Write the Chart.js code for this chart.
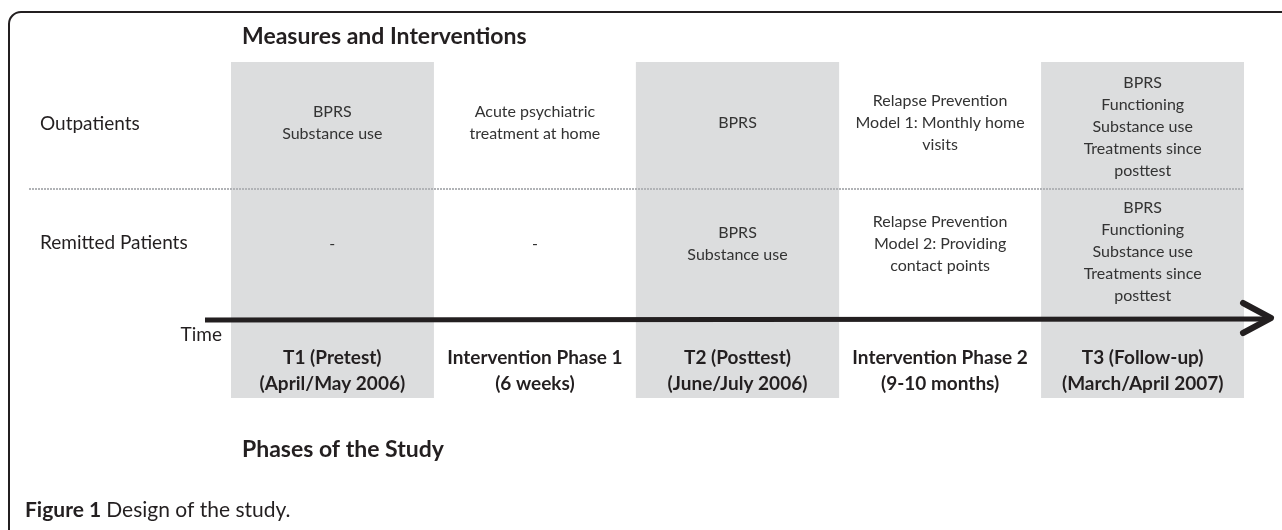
<!DOCTYPE html>
<html>
<head>
<meta charset="utf-8">
<script src="https://cdn.jsdelivr.net/npm/chart.js@4"></script>
<style>
  html, body { margin: 0; padding: 0; background: #fff; }
  #chart { display: block; }
</style>
</head>
<body>
<canvas id="chart" width="1282" height="530"></canvas>
<script>
  // phases of the study (columns along the time axis)
  const phases = [
    ['T1 (Pretest)', '(April/May 2006)'],
    ['Intervention Phase 1', '(6 weeks)'],
    ['T2 (Posttest)', '(June/July 2006)'],
    ['Intervention Phase 2', '(9-10 months)'],
    ['T3 (Follow-up)', '(March/April 2007)']
  ];
  // 1 = measurement point (grey column), 0 = intervention phase
  const measured = [1, 0, 1, 0, 1];

  const groups = ['Outpatients', 'Remitted Patients'];

  const outpatientCells = [
    ['BPRS', 'Substance use'],
    ['Acute psychiatric', 'treatment at home'],
    ['BPRS'],
    ['Relapse Prevention', 'Model 1: Monthly home', 'visits'],
    ['BPRS', 'Functioning', 'Substance use', 'Treatments since', 'posttest']
  ];
  const remittedCells = [
    ['-'],
    ['-'],
    ['BPRS', 'Substance use'],
    ['Relapse Prevention', 'Model 2: Providing', 'contact points'],
    ['BPRS', 'Functioning', 'Substance use', 'Treatments since', 'posttest']
  ];

  const FONT = 'Lato, "Open Sans", sans-serif';
  const INK = '#231f20';

  const diagramPlugin = {
    id: 'diagram',
    beforeDraw(chart) {
      const ctx = chart.ctx;
      ctx.save();
      // rounded frame (only top and left sides are in view)
      ctx.strokeStyle = INK;
      ctx.lineWidth = 2;
      ctx.beginPath();
      ctx.moveTo(1290, 12);
      ctx.lineTo(21, 12);
      ctx.arcTo(9, 12, 9, 24, 12);
      ctx.lineTo(9, 540);
      ctx.stroke();
      ctx.restore();
    },
    afterDatasetsDraw(chart) {
      const ctx = chart.ctx;
      const x = chart.scales.x;
      const area = chart.chartArea;
      ctx.save();

      // dotted separator between the two patient groups
      ctx.strokeStyle = '#b1b3b6';
      ctx.lineWidth = 2;
      ctx.setLineDash([2, 1]);
      ctx.beginPath();
      ctx.moveTo(29, 189);
      ctx.lineTo(area.right, 189);
      ctx.stroke();
      ctx.setLineDash([]);

      // headings
      ctx.fillStyle = INK;
      ctx.textBaseline = 'middle';
      ctx.textAlign = 'left';
      ctx.font = 'bold 23px ' + FONT;
      ctx.fillText('Measures and Interventions', 242, 37);
      ctx.fillText('Phases of the Study', 242, 450);

      // row labels
      ctx.font = '19px ' + FONT;
      ctx.fillText(groups[0], 40, 124);
      ctx.fillText(groups[1], 40, 243);
      ctx.textAlign = 'right';
      ctx.fillText('Time', 222, 335);

      // cell contents
      ctx.textAlign = 'center';
      ctx.font = '16px ' + FONT;
      ctx.fillStyle = '#333';
      const lh = 22;
      const drawBlock = (lines, cx, cy) => {
        const y0 = cy - (lines.length - 1) * lh / 2;
        lines.forEach((t, i) => ctx.fillText(t, cx, y0 + i * lh));
      };
      phases.forEach((p, i) => {
        const cx = x.getPixelForValue(i);
        drawBlock(outpatientCells[i], cx, 123 + (outpatientCells[i].length > 3 ? 4 : 0));
        drawBlock(remittedCells[i], cx, 244 + (remittedCells[i].length > 3 ? 8 : 0));
      });

      // time arrow
      ctx.strokeStyle = INK;
      ctx.lineWidth = 5;
      ctx.beginPath();
      ctx.moveTo(205, 320);
      ctx.lineTo(1268, 319);
      ctx.stroke();
      ctx.lineCap = 'round';
      ctx.lineJoin = 'round';
      ctx.lineWidth = 6;
      ctx.beginPath();
      ctx.moveTo(1243, 303);
      ctx.lineTo(1271, 318);
      ctx.lineTo(1243, 333);
      ctx.stroke();

      // phase labels
      ctx.fillStyle = INK;
      ctx.font = 'bold 19px ' + FONT;
      phases.forEach((p, i) => {
        const cx = x.getPixelForValue(i);
        ctx.fillText(p[0], cx, 358);
        ctx.fillText(p[1], cx, 384);
      });

      // caption
      ctx.textAlign = 'left';
      ctx.font = 'bold 21px ' + FONT;
      ctx.fillText('Figure 1', 25, 510);
      const w = ctx.measureText('Figure 1 ').width;
      ctx.font = '21px ' + FONT;
      ctx.fillText('Design of the study.', 25 + w, 510);

      ctx.restore();
    }
  };

  new Chart(document.getElementById('chart'), {
    type: 'bar',
    data: {
      labels: phases.map(p => p.join(' ')),
      datasets: [{
        data: measured.map(m => (m ? [0, 1] : null)),
        backgroundColor: '#dcddde',
        borderWidth: 0,
        categoryPercentage: 1,
        barPercentage: 1
      }]
    },
    options: {
      responsive: false,
      animation: false,
      layout: { padding: { left: 231, right: 38, top: 62, bottom: 132 } },
      plugins: { legend: { display: false }, tooltip: { enabled: false } },
      scales: {
        x: { display: false },
        y: { display: false, min: 0, max: 1 }
      }
    },
    plugins: [diagramPlugin]
  });
</script>
</body>
</html>
